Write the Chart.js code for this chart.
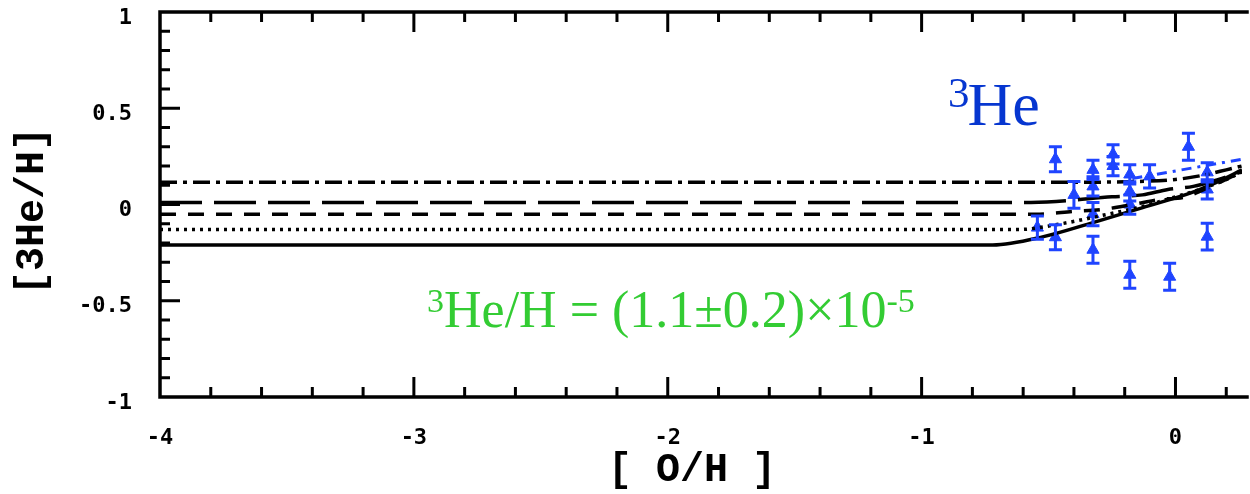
<!DOCTYPE html>
<html>
<head>
<meta charset="utf-8">
<script src="https://cdn.jsdelivr.net/npm/chart.js@4/dist/chart.umd.min.js"></script>
<style>
  html, body { margin: 0; padding: 0; background: #ffffff; }
  #wrap { width: 1250px; height: 494px; position: relative; }
</style>
</head>
<body>
<div id="wrap"><canvas id="c" width="1250" height="494"></canvas></div>
<script>
// Axis ticks
const xMajorTicks = [-4, -3, -2, -1, 0];
const yMajorTicks = [-1, -0.5, 0, 0.5, 1];

// Chemical evolution model tracks of [3He/H] versus [O/H]
const dashDotX = [-4, -1.0, -0.5, -0.2, 0.0, 0.1, 0.2, 0.262];
const dashDotY = [0.115, 0.115, 0.115, 0.118, 0.13, 0.15, 0.18, 0.2];

const longDashX = [-4, -0.6, -0.47, -0.25, -0.13, -0.03, 0.07, 0.17, 0.262];
const longDashY = [0.01, 0.01, 0.016, 0.04, 0.05, 0.078, 0.094, 0.13, 0.17];

const shortDashX = [-4, -0.55, -0.4, -0.29, -0.17, -0.06, 0.04, 0.14, 0.262];
const shortDashY = [-0.05, -0.05, -0.036, -0.026, 0.0, 0.026, 0.04, 0.094, 0.17];

const dottedX = [-4, -0.62, -0.45, -0.3, -0.13, 0.0, 0.1, 0.2, 0.262];
const dottedY = [-0.13, -0.13, -0.1, -0.06, -0.01, 0.04, 0.08, 0.13, 0.17];

const solidX = [-4, -0.72, -0.52, -0.325, -0.129, 0.066, 0.17, 0.262];
const solidY = [-0.21, -0.21, -0.167, -0.094, -0.016, 0.0625, 0.12, 0.18];

const blueLineX = [-0.17, 0.262];
const blueLineY = [0.135, 0.235];

// HII region / planetary nebula measurements
const obsOH  = [-0.544, -0.473, -0.473, -0.40, -0.325, -0.325, -0.325, -0.325, -0.246, -0.246,
                -0.18, -0.18, -0.18, -0.18, -0.102, -0.023, 0.051, 0.125, 0.125, 0.125];
const obsHe  = [-0.12, 0.235, -0.17, 0.05, 0.18, 0.094, -0.05, -0.235, 0.26, 0.20,
                0.156, 0.068, 0.0, -0.365, 0.146, -0.375, 0.30, 0.167, 0.078, -0.167];
const obsErr = [0.06, 0.065, 0.065, 0.07, 0.05, 0.05, 0.06, 0.07, 0.05, 0.05,
                0.05, 0.05, 0.05, 0.07, 0.06, 0.07, 0.07, 0.05, 0.05, 0.07];

const pts = (xs, ys) => xs.map((x, i) => ({ x: x, y: ys[i] }));

const BLUE = '#1f44ff';
const lineBase = {
  showLine: true, pointRadius: 0, pointHoverRadius: 0, borderColor: '#000000',
  borderWidth: 3.5, cubicInterpolationMode: 'monotone', fill: false, borderCapStyle: 'butt'
};

// Error bars on the measurements
const errorBars = {
  id: 'errorBars',
  afterDatasetsDraw(chart) {
    const ctx = chart.ctx, xs = chart.scales.x, ys = chart.scales.y;
    ctx.save();
    ctx.strokeStyle = BLUE;
    ctx.lineWidth = 3;
    obsOH.forEach((x, i) => {
      const px = xs.getPixelForValue(x);
      const top = ys.getPixelForValue(obsHe[i] + obsErr[i]);
      const bot = ys.getPixelForValue(obsHe[i] - obsErr[i]);
      ctx.beginPath();
      ctx.moveTo(px, top); ctx.lineTo(px, bot);
      ctx.moveTo(px - 6.5, top); ctx.lineTo(px + 6.5, top);
      ctx.moveTo(px - 6.5, bot); ctx.lineTo(px + 6.5, bot);
      ctx.stroke();
    });
    ctx.restore();
  }
};

// Box frame with inward major/minor ticks, axis titles and annotations
const frame = {
  id: 'frame',
  afterDraw(chart) {
    const ctx = chart.ctx, a = chart.chartArea, xs = chart.scales.x, ys = chart.scales.y;
    ctx.save();
    ctx.strokeStyle = '#000000';
    ctx.lineCap = 'square';
    ctx.lineWidth = 3.5;
    ctx.beginPath();
    ctx.moveTo(a.right + 5, a.top); ctx.lineTo(a.left, a.top);
    ctx.lineTo(a.left, a.bottom); ctx.lineTo(a.right + 5, a.bottom);
    ctx.stroke();

    ctx.lineWidth = 3;
    ctx.lineCap = 'butt';
    ctx.beginPath();
    for (let k = -40; k <= 2; k++) {
      const v = k / 10;
      if (v > xs.max) break;
      const px = xs.getPixelForValue(v);
      const len = (k % 10 === 0) ? 20 : (k % 2 === 0 ? 10 : 0);
      if (!len || k === -40) continue;
      ctx.moveTo(px, a.bottom); ctx.lineTo(px, a.bottom - len);
      ctx.moveTo(px, a.top); ctx.lineTo(px, a.top + len);
    }
    for (let k = -9; k <= 9; k++) {
      const py = ys.getPixelForValue(k / 10);
      const len = (k % 5 === 0) ? 20 : 10;
      ctx.moveTo(a.left, py); ctx.lineTo(a.left + len, py);
    }
    ctx.stroke();

    // axis titles
    ctx.fillStyle = '#000000';
    ctx.font = 'bold 40px "Liberation Mono", monospace';
    ctx.textAlign = 'center';
    ctx.textBaseline = 'middle';
    ctx.fillText('[ O/H ]', 692, 471);
    ctx.save();
    ctx.translate(33, 211);
    ctx.rotate(-Math.PI / 2);
    ctx.fillText('[3He/H]', 0, 0);
    ctx.restore();

    // annotations
    ctx.textAlign = 'left';
    ctx.textBaseline = 'alphabetic';
    ctx.fillStyle = '#0636d0';
    ctx.font = '43px "Liberation Serif", serif';
    ctx.fillText('3', 948, 107);
    let w = ctx.measureText('3').width;
    ctx.font = '62px "Liberation Serif", serif';
    ctx.fillText('He', 948 + w - 2, 125);

    ctx.fillStyle = '#33cc33';
    ctx.font = '34px "Liberation Serif", serif';
    ctx.fillText('3', 427, 312);
    let x = 427 + ctx.measureText('3').width;
    ctx.font = '52px "Liberation Serif", serif';
    const main = 'He/H = (1.1\u00b10.2)\u00d710';
    ctx.fillText(main, x, 327);
    x += ctx.measureText(main).width;
    ctx.font = '34px "Liberation Serif", serif';
    ctx.fillText('-5', x, 312);
    ctx.restore();
  }
};

const tickFont = { family: '"DejaVu Sans Mono", monospace', size: 22, weight: 'bold' };
const noPad = s => { s.paddingTop = 0; s.paddingBottom = 0; s.paddingLeft = 0; s.paddingRight = 0; };

new Chart(document.getElementById('c'), {
  type: 'scatter',
  data: {
    datasets: [
      Object.assign({ data: pts(dashDotX, dashDotY), borderDash: [17, 6, 4, 6] }, lineBase),
      Object.assign({ data: pts(longDashX, longDashY), borderDash: [42, 12] }, lineBase),
      Object.assign({ data: pts(shortDashX, shortDashY), borderDash: [16, 12] }, lineBase),
      Object.assign({ data: pts(dottedX, dottedY), borderDash: [3, 5] }, lineBase),
      Object.assign({ data: pts(solidX, solidY) }, lineBase),
      Object.assign({}, lineBase, { data: pts(blueLineX, blueLineY), borderColor: BLUE, borderWidth: 3, borderDash: [10, 6, 3, 6] }),
      {
        data: pts(obsOH, obsHe), showLine: false, pointStyle: 'triangle',
        pointRadius: 7, pointHoverRadius: 7, backgroundColor: BLUE, borderColor: BLUE, borderWidth: 1
      }
    ]
  },
  options: {
    responsive: false,
    animation: false,
    events: [],
    layout: { padding: { top: 12, right: 0, left: 0, bottom: 0 } },
    plugins: { legend: { display: false }, tooltip: { enabled: false } },
    scales: {
      x: {
        type: 'linear', min: -4, max: 0.262,
        afterBuildTicks: s => { s.ticks = xMajorTicks.map(v => ({ value: v })); },
        afterFit: s => { s.height = 97; noPad(s); },
        grid: { display: false, drawTicks: false },
        border: { display: false },
        ticks: { font: tickFont, color: '#000000', padding: 28, maxRotation: 0, autoSkip: false,
                 callback: v => String(v) }
      },
      y: {
        type: 'linear', min: -1, max: 1,
        afterBuildTicks: s => { s.ticks = yMajorTicks.map(v => ({ value: v })); },
        afterFit: s => { s.width = 160; noPad(s); },
        grid: { display: false, drawTicks: false },
        border: { display: false },
        ticks: { font: tickFont, color: '#000000', padding: 28, labelOffset: 6, autoSkip: false,
                 callback: v => String(v) }
      }
    }
  },
  plugins: [errorBars, frame]
});
</script>
</body>
</html>
